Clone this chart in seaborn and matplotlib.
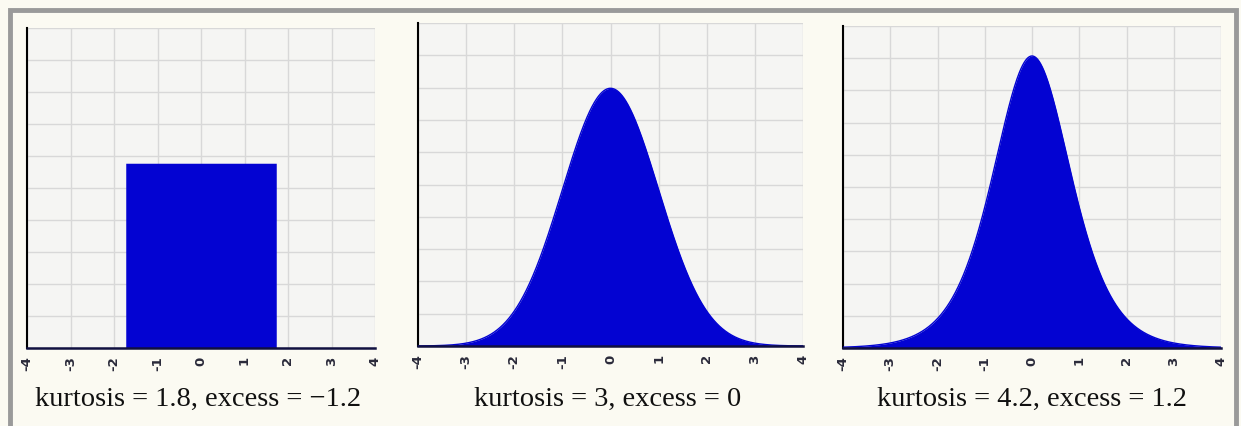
import numpy as np
import pandas as pd
import matplotlib
matplotlib.use("Agg")
import matplotlib.pyplot as plt
import seaborn as sns
from matplotlib.patches import Rectangle

# ---- data ----
distributions = ["uniform", "normal", "logistic"]   # all with unit variance
kurtosis_labels = ["1.8", "3", "4.2"]
excess_labels = ["\u22121.2", "0", "1.2"]
x_ticks = [-4, -3, -2, -1, 0, 1, 2, 3, 4]
y_ticks = [0.0, 0.05, 0.1, 0.15, 0.2, 0.25, 0.3, 0.35, 0.4, 0.45, 0.5]


def density(name, x):
    if name == "uniform":
        a = np.sqrt(3.0)
        return np.where(np.abs(x) <= a, 1.0 / (2 * a), 0.0)
    if name == "normal":
        return np.exp(-x ** 2 / 2) / np.sqrt(2 * np.pi)
    s = np.sqrt(3.0) / np.pi
    z = np.exp(-x / s)
    return z / (s * (1 + z) ** 2)


sns.set_style("white")
plt.rcParams["font.family"] = ["DejaVu Sans"]

W, H = 1241, 426
fig = plt.figure(figsize=(W / 100, H / 100), dpi=100)
fig.patch.set_facecolor("#fbfaf2")

# outer frame (open at the bottom edge of the image)
fig.patches.append(Rectangle((10 / W, -0.05), (1236 - 10) / W, 1.05 - 10 / H,
                             transform=fig.transFigure, fill=False,
                             edgecolor="#9a9a9a", linewidth=3.5, zorder=0))

# axes boxes in pixels: left, right, top, bottom
boxes = [(27, 375, 28, 348), (418, 803, 23, 346), (843, 1221, 26, 348)]
caption_x = [198, 608, 1032]

blue = "#0303d2"
for i, name in enumerate(distributions):
    l, r, t, b = boxes[i]
    ax = fig.add_axes([l / W, 1 - b / H, (r - l) / W, (b - t) / H])
    ax.set_facecolor("#f5f5f3")
    xs = np.linspace(-4, 4, 1601)
    ys = density(name, xs)
    df = pd.DataFrame({"x": xs, "y": ys})
    if name == "uniform":
        ax.fill_between(df["x"], 0, df["y"], where=df["y"] > 0,
                        color=blue, linewidth=0, zorder=3)
    else:
        ax.fill_between(df["x"], 0, df["y"], color=blue, linewidth=0, zorder=3)
        sns.lineplot(data=df, x="x", y="y", ax=ax, color=blue, linewidth=1.0, zorder=4)
    ax.set_xlim(-4, 4)
    ax.set_ylim(0, 0.5)
    ax.set_xticks(x_ticks)
    ax.set_xticklabels([str(v) for v in x_ticks], rotation=90, fontsize=9.5,
                       color="#2a2a3a", fontweight="bold")
    ax.set_yticks(y_ticks)
    ax.set_yticklabels([])
    ax.grid(True, color="#d8d8d8", linewidth=1.0)
    ax.set_axisbelow(True)
    ax.set_xlabel("")
    ax.set_ylabel("")
    for s in ["top", "right"]:
        ax.spines[s].set_visible(False)
    ax.spines["left"].set_color("black")
    ax.spines["left"].set_linewidth(1.5)
    ax.spines["bottom"].set_color("#101040")
    ax.spines["bottom"].set_linewidth(1.8)
    ax.spines["bottom"].set_zorder(5)
    ax.tick_params(axis="x", direction="out", length=4, width=1.2, color="black", pad=2)
    ax.tick_params(axis="y", direction="out", length=3, width=1.2, color="black")
    fig.text(caption_x[i] / W, 1 - 399 / H,
             f"kurtosis = {kurtosis_labels[i]}, excess = {excess_labels[i]}",
             ha="center", va="center", fontsize=20.5, family="Liberation Serif",
             color="#101010")

fig.savefig("out.png", dpi=100, facecolor=fig.get_facecolor())
